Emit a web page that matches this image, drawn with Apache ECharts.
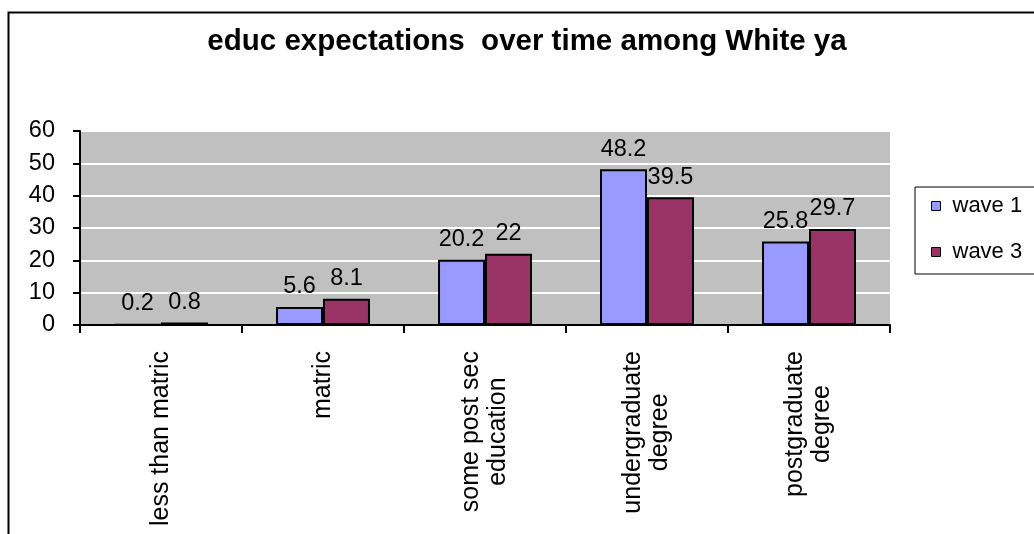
<!DOCTYPE html>
<html>
<head>
<meta charset="utf-8">
<script src="https://cdn.jsdelivr.net/npm/echarts@6/dist/echarts.min.js"></script>
<style>
html,body{margin:0;padding:0;background:#fff;}
#chart{width:1034px;height:534px;}
</style>
</head>
<body>
<div id="chart"></div>
<script>
const titleText = 'educ expectations  over time among White ya';
const categories = ['less than matric', 'matric', 'some post sec\neducation', 'undergraduate\ndegree', 'postgraduate\ndegree'];
const seriesNames = ['wave 1', 'wave 3'];
const wave1 = [0.2, 5.6, 20.2, 48.2, 25.8];
const wave3 = [0.8, 8.1, 22, 39.5, 29.7];
const yTicks = [0, 10, 20, 30, 40, 50, 60];

const FONT = 'Arial, "Liberation Sans", sans-serif';
const chart = echarts.init(document.getElementById('chart'), null, {renderer: 'canvas'});

function barSeries(name, data, color) {
  return {
    name: name,
    type: 'bar',
    data: data,
    barGap: '0%',
    barCategoryGap: '42%',
    itemStyle: {color: color, borderColor: '#000', borderWidth: 2},
    label: {
      show: true, position: 'top', distance: 8,
      color: '#000', fontSize: 23.5, fontFamily: FONT
    },
    emphasis: {disabled: true}
  };
}

chart.setOption({
  animation: false,
  backgroundColor: '#fff',
  title: {
    text: titleText,
    left: 522,
    top: 22,
    textAlign: 'center',
    textStyle: {fontSize: 29.5, fontWeight: 'bold', color: '#000', fontFamily: FONT}
  },
  graphic: [{
    type: 'rect',
    left: 6, top: 10,
    shape: {x: 0, y: 0, width: 1100, height: 600},
    style: {fill: 'none', stroke: '#000', lineWidth: 2},
    silent: true
  }],
  legend: {
    orient: 'vertical',
    left: 915, top: 187,
    padding: [8, 15, 11, 16],
    itemWidth: 9, itemHeight: 9,
    itemGap: 24,
    borderColor: '#000', borderWidth: 1,
    icon: 'rect',
    itemStyle: {borderColor: '#000', borderWidth: 1},
    textStyle: {fontSize: 22, color: '#000', fontFamily: FONT, padding: [0, 0, 0, 7]},
    data: seriesNames
  },
  grid: {
    left: 80, top: 131, right: 144, bottom: 209,
    show: true, backgroundColor: '#c0c0c0', borderWidth: 0
  },
  xAxis: {
    type: 'category',
    data: categories,
    axisLine: {lineStyle: {color: '#000', width: 2}},
    axisTick: {show: true, length: 8, lineStyle: {color: '#000', width: 2}},
    axisLabel: {
      interval: 0, rotate: 90, margin: 26,
      formatter: function (v) { return v.split('\n').map(s => '{a|' + s + '}').join('\n'); },
      rich: {a: {align: 'center', fontSize: 25, lineHeight: 27, color: '#000', fontFamily: FONT}}
    }
  },
  yAxis: {
    type: 'value',
    min: yTicks[0], max: yTicks[yTicks.length - 1], interval: 10,
    axisLine: {show: true, lineStyle: {color: '#000', width: 2}},
    axisTick: {show: true, length: 7, lineStyle: {color: '#000', width: 2}},
    axisLabel: {margin: 25, fontSize: 23.5, color: '#000', fontFamily: FONT},
    splitLine: {show: true, lineStyle: {color: '#fff', width: 2}}
  },
  series: [
    barSeries(seriesNames[0], wave1, '#9999ff'),
    barSeries(seriesNames[1], wave3, '#993366')
  ]
});
</script>
</body>
</html>
